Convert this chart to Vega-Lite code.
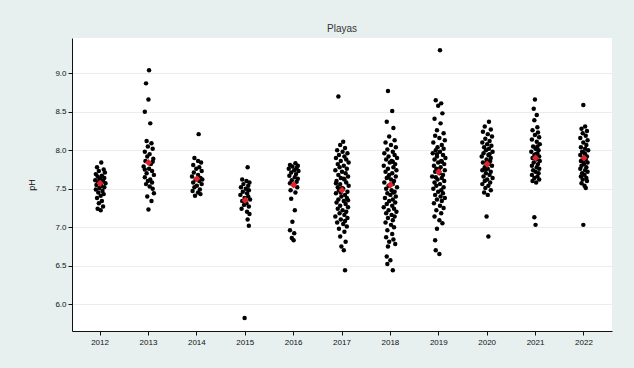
{
  "$schema": "https://vega.github.io/schema/vega-lite/v6.json",
  "autosize": "none",
  "width": 540,
  "height": 293,
  "padding": {"left": 72, "top": 38, "right": 22, "bottom": 37},
  "background": "#e7efef",
  "title": {"text": "Playas", "fontSize": 10, "font": "Liberation Sans", "fontWeight": "normal", "color": "#333333", "anchor": "middle", "offset": 4},
  "config": {
    "view": {"fill": "white", "stroke": null},
    "axis": {"labelFont": "Liberation Sans", "titleFont": "Liberation Sans", "labelFontSize": 8, "labelColor": "#111111", "domainColor": "#111111", "tickColor": "#111111", "titleColor": "#111111", "titleFontWeight": "normal"}
  },
  "datasets": {
    "obs": [
      {"year":2012,"ph":7.84,"j":0.2},{"year":2012,"ph":7.78,"j":-0.5},{"year":2012,"ph":7.75,"j":0.6},{"year":2012,"ph":7.73,"j":-0.2},{"year":2012,"ph":7.71,"j":0.8},{"year":2012,"ph":7.69,"j":-0.7},{"year":2012,"ph":7.67,"j":0.3},{"year":2012,"ph":7.66,"j":-0.4},{"year":2012,"ph":7.64,"j":0.7},{"year":2012,"ph":7.63,"j":0.0},{"year":2012,"ph":7.61,"j":-0.8},{"year":2012,"ph":7.60,"j":0.5},{"year":2012,"ph":7.58,"j":-0.3},{"year":2012,"ph":7.57,"j":0.9},{"year":2012,"ph":7.55,"j":-0.6},{"year":2012,"ph":7.54,"j":0.2},{"year":2012,"ph":7.52,"j":0.7},{"year":2012,"ph":7.51,"j":-0.1},{"year":2012,"ph":7.49,"j":-0.7},{"year":2012,"ph":7.47,"j":0.4},{"year":2012,"ph":7.45,"j":-0.3},{"year":2012,"ph":7.43,"j":0.6},{"year":2012,"ph":7.41,"j":0.1},{"year":2012,"ph":7.38,"j":-0.5},{"year":2012,"ph":7.34,"j":0.3},{"year":2012,"ph":7.31,"j":-0.2},{"year":2012,"ph":7.27,"j":0.5},{"year":2012,"ph":7.24,"j":-0.4},{"year":2012,"ph":7.22,"j":0.1},{"year":2012,"ph":7.62,"j":-0.1},
      {"year":2013,"ph":9.04,"j":0.1},{"year":2013,"ph":8.87,"j":-0.4},{"year":2013,"ph":8.66,"j":0.0},{"year":2013,"ph":8.50,"j":-0.6},{"year":2013,"ph":8.35,"j":0.3},{"year":2013,"ph":8.12,"j":-0.3},{"year":2013,"ph":8.09,"j":0.5},{"year":2013,"ph":8.05,"j":-0.1},{"year":2013,"ph":8.02,"j":0.7},{"year":2013,"ph":7.98,"j":-0.6},{"year":2013,"ph":7.95,"j":0.2},{"year":2013,"ph":7.92,"j":-0.2},{"year":2013,"ph":7.89,"j":0.8},{"year":2013,"ph":7.86,"j":-0.5},{"year":2013,"ph":7.82,"j":0.4},{"year":2013,"ph":7.79,"j":-0.8},{"year":2013,"ph":7.76,"j":0.1},{"year":2013,"ph":7.73,"j":0.6},{"year":2013,"ph":7.70,"j":-0.3},{"year":2013,"ph":7.68,"j":0.9},{"year":2013,"ph":7.65,"j":-0.6},{"year":2013,"ph":7.62,"j":0.3},{"year":2013,"ph":7.60,"j":-0.1},{"year":2013,"ph":7.58,"j":0.6},{"year":2013,"ph":7.56,"j":-0.4},{"year":2013,"ph":7.53,"j":0.2},{"year":2013,"ph":7.50,"j":0.7},{"year":2013,"ph":7.44,"j":0.9},{"year":2013,"ph":7.40,"j":-0.2},{"year":2013,"ph":7.34,"j":0.5},{"year":2013,"ph":7.23,"j":0.0},{"year":2013,"ph":7.75,"j":-0.6},{"year":2013,"ph":7.85,"j":0.7},
      {"year":2014,"ph":8.21,"j":0.3},{"year":2014,"ph":7.90,"j":-0.4},{"year":2014,"ph":7.86,"j":0.2},{"year":2014,"ph":7.84,"j":0.7},{"year":2014,"ph":7.81,"j":-0.6},{"year":2014,"ph":7.78,"j":0.4},{"year":2014,"ph":7.76,"j":-0.1},{"year":2014,"ph":7.73,"j":0.8},{"year":2014,"ph":7.71,"j":-0.5},{"year":2014,"ph":7.68,"j":0.2},{"year":2014,"ph":7.66,"j":-0.8},{"year":2014,"ph":7.64,"j":0.6},{"year":2014,"ph":7.62,"j":-0.2},{"year":2014,"ph":7.60,"j":0.4},{"year":2014,"ph":7.58,"j":-0.6},{"year":2014,"ph":7.56,"j":0.8},{"year":2014,"ph":7.54,"j":0.0},{"year":2014,"ph":7.52,"j":-0.4},{"year":2014,"ph":7.49,"j":0.5},{"year":2014,"ph":7.47,"j":-0.7},{"year":2014,"ph":7.45,"j":0.2},{"year":2014,"ph":7.43,"j":0.6},{"year":2014,"ph":7.41,"j":-0.3},{"year":2014,"ph":7.62,"j":0.9},
      {"year":2015,"ph":7.78,"j":0.4},{"year":2015,"ph":7.62,"j":-0.5},{"year":2015,"ph":7.60,"j":0.2},{"year":2015,"ph":7.58,"j":0.7},{"year":2015,"ph":7.56,"j":-0.3},{"year":2015,"ph":7.54,"j":0.5},{"year":2015,"ph":7.52,"j":-0.7},{"year":2015,"ph":7.50,"j":0.1},{"year":2015,"ph":7.48,"j":0.6},{"year":2015,"ph":7.46,"j":-0.4},{"year":2015,"ph":7.44,"j":0.3},{"year":2015,"ph":7.42,"j":-0.8},{"year":2015,"ph":7.40,"j":0.5},{"year":2015,"ph":7.38,"j":-0.1},{"year":2015,"ph":7.36,"j":0.8},{"year":2015,"ph":7.34,"j":-0.5},{"year":2015,"ph":7.31,"j":0.2},{"year":2015,"ph":7.29,"j":-0.2},{"year":2015,"ph":7.27,"j":0.6},{"year":2015,"ph":7.24,"j":-0.6},{"year":2015,"ph":7.20,"j":0.3},{"year":2015,"ph":7.17,"j":0.7},{"year":2015,"ph":7.10,"j":0.4},{"year":2015,"ph":7.02,"j":0.6},{"year":2015,"ph":5.82,"j":-0.1},
      {"year":2016,"ph":7.83,"j":0.3},{"year":2016,"ph":7.81,"j":-0.6},{"year":2016,"ph":7.80,"j":0.7},{"year":2016,"ph":7.79,"j":-0.2},{"year":2016,"ph":7.77,"j":0.5},{"year":2016,"ph":7.76,"j":-0.8},{"year":2016,"ph":7.74,"j":0.1},{"year":2016,"ph":7.73,"j":0.8},{"year":2016,"ph":7.71,"j":-0.4},{"year":2016,"ph":7.69,"j":0.4},{"year":2016,"ph":7.67,"j":-0.7},{"year":2016,"ph":7.65,"j":0.2},{"year":2016,"ph":7.63,"j":0.7},{"year":2016,"ph":7.61,"j":-0.3},{"year":2016,"ph":7.59,"j":0.5},{"year":2016,"ph":7.57,"j":-0.6},{"year":2016,"ph":7.55,"j":0.0},{"year":2016,"ph":7.52,"j":0.6},{"year":2016,"ph":7.48,"j":-0.5},{"year":2016,"ph":7.45,"j":0.3},{"year":2016,"ph":7.37,"j":-0.4},{"year":2016,"ph":7.22,"j":0.2},{"year":2016,"ph":7.07,"j":-0.2},{"year":2016,"ph":6.96,"j":-0.6},{"year":2016,"ph":6.92,"j":0.1},{"year":2016,"ph":6.86,"j":-0.3},{"year":2016,"ph":6.83,"j":0.0},
      {"year":2017,"ph":8.70,"j":-0.6},{"year":2017,"ph":8.11,"j":0.2},{"year":2017,"ph":8.07,"j":-0.3},{"year":2017,"ph":8.03,"j":0.5},{"year":2017,"ph":8.00,"j":-0.8},{"year":2017,"ph":7.98,"j":0.1},{"year":2017,"ph":7.96,"j":0.9},{"year":2017,"ph":7.94,"j":-0.5},{"year":2017,"ph":7.92,"j":0.4},{"year":2017,"ph":7.90,"j":-1.0},{"year":2017,"ph":7.88,"j":0.7},{"year":2017,"ph":7.86,"j":-0.2},{"year":2017,"ph":7.84,"j":1.1},{"year":2017,"ph":7.82,"j":-0.7},{"year":2017,"ph":7.80,"j":0.3},{"year":2017,"ph":7.78,"j":-0.4},{"year":2017,"ph":7.76,"j":0.8},{"year":2017,"ph":7.74,"j":-1.1},{"year":2017,"ph":7.72,"j":0.0},{"year":2017,"ph":7.70,"j":0.6},{"year":2017,"ph":7.68,"j":-0.6},{"year":2017,"ph":7.66,"j":1.0},{"year":2017,"ph":7.64,"j":-0.2},{"year":2017,"ph":7.62,"j":0.4},{"year":2017,"ph":7.60,"j":-0.9},{"year":2017,"ph":7.58,"j":0.7},{"year":2017,"ph":7.56,"j":-0.3},{"year":2017,"ph":7.54,"j":1.1},{"year":2017,"ph":7.52,"j":-0.7},{"year":2017,"ph":7.50,"j":0.2},{"year":2017,"ph":7.48,"j":-0.5},{"year":2017,"ph":7.46,"j":0.9},{"year":2017,"ph":7.44,"j":-1.0},{"year":2017,"ph":7.42,"j":0.5},{"year":2017,"ph":7.40,"j":-0.1},{"year":2017,"ph":7.38,"j":0.8},{"year":2017,"ph":7.36,"j":-0.6},{"year":2017,"ph":7.34,"j":0.3},{"year":2017,"ph":7.32,"j":-0.9},{"year":2017,"ph":7.30,"j":0.6},{"year":2017,"ph":7.28,"j":-0.3},{"year":2017,"ph":7.26,"j":1.0},{"year":2017,"ph":7.24,"j":-0.7},{"year":2017,"ph":7.22,"j":0.1},{"year":2017,"ph":7.20,"j":0.7},{"year":2017,"ph":7.18,"j":-0.4},{"year":2017,"ph":7.16,"j":0.4},{"year":2017,"ph":7.14,"j":-1.1},{"year":2017,"ph":7.12,"j":0.9},{"year":2017,"ph":7.10,"j":-0.2},{"year":2017,"ph":7.08,"j":0.5},{"year":2017,"ph":7.06,"j":-0.8},{"year":2017,"ph":7.04,"j":0.2},{"year":2017,"ph":7.01,"j":0.8},{"year":2017,"ph":6.98,"j":-0.5},{"year":2017,"ph":6.94,"j":0.4},{"year":2017,"ph":6.88,"j":-0.3},{"year":2017,"ph":6.81,"j":0.6},{"year":2017,"ph":6.75,"j":-0.1},{"year":2017,"ph":6.70,"j":0.3},{"year":2017,"ph":6.44,"j":0.5},{"year":2017,"ph":7.51,"j":0.0},{"year":2017,"ph":7.45,"j":-0.2},{"year":2017,"ph":7.63,"j":0.3},{"year":2017,"ph":7.35,"j":1.0},{"year":2017,"ph":7.57,"j":-1.0},
      {"year":2018,"ph":8.77,"j":-0.4},{"year":2018,"ph":8.51,"j":0.3},{"year":2018,"ph":8.37,"j":-0.6},{"year":2018,"ph":8.29,"j":0.5},{"year":2018,"ph":8.18,"j":-0.2},{"year":2018,"ph":8.13,"j":0.7},{"year":2018,"ph":8.10,"j":-0.8},{"year":2018,"ph":8.07,"j":0.1},{"year":2018,"ph":8.04,"j":0.9},{"year":2018,"ph":8.01,"j":-0.5},{"year":2018,"ph":7.98,"j":0.4},{"year":2018,"ph":7.96,"j":-1.0},{"year":2018,"ph":7.94,"j":0.7},{"year":2018,"ph":7.92,"j":-0.3},{"year":2018,"ph":7.90,"j":1.1},{"year":2018,"ph":7.88,"j":-0.7},{"year":2018,"ph":7.86,"j":0.2},{"year":2018,"ph":7.84,"j":-0.1},{"year":2018,"ph":7.82,"j":0.8},{"year":2018,"ph":7.80,"j":-1.1},{"year":2018,"ph":7.78,"j":0.5},{"year":2018,"ph":7.76,"j":-0.4},{"year":2018,"ph":7.74,"j":1.0},{"year":2018,"ph":7.72,"j":-0.8},{"year":2018,"ph":7.70,"j":0.3},{"year":2018,"ph":7.68,"j":-0.2},{"year":2018,"ph":7.66,"j":0.9},{"year":2018,"ph":7.64,"j":-0.6},{"year":2018,"ph":7.62,"j":0.1},{"year":2018,"ph":7.60,"j":0.6},{"year":2018,"ph":7.58,"j":-1.0},{"year":2018,"ph":7.56,"j":0.4},{"year":2018,"ph":7.54,"j":-0.3},{"year":2018,"ph":7.52,"j":1.1},{"year":2018,"ph":7.50,"j":-0.7},{"year":2018,"ph":7.48,"j":0.2},{"year":2018,"ph":7.46,"j":0.7},{"year":2018,"ph":7.44,"j":-0.5},{"year":2018,"ph":7.42,"j":0.0},{"year":2018,"ph":7.40,"j":0.9},{"year":2018,"ph":7.38,"j":-0.9},{"year":2018,"ph":7.36,"j":0.4},{"year":2018,"ph":7.34,"j":-0.2},{"year":2018,"ph":7.32,"j":0.8},{"year":2018,"ph":7.30,"j":-0.6},{"year":2018,"ph":7.28,"j":0.3},{"year":2018,"ph":7.26,"j":-1.1},{"year":2018,"ph":7.24,"j":0.6},{"year":2018,"ph":7.22,"j":-0.3},{"year":2018,"ph":7.20,"j":1.0},{"year":2018,"ph":7.18,"j":-0.7},{"year":2018,"ph":7.16,"j":0.2},{"year":2018,"ph":7.14,"j":0.7},{"year":2018,"ph":7.12,"j":-0.4},{"year":2018,"ph":7.09,"j":0.4},{"year":2018,"ph":7.06,"j":-0.8},{"year":2018,"ph":7.03,"j":0.1},{"year":2018,"ph":7.00,"j":0.6},{"year":2018,"ph":6.96,"j":-0.5},{"year":2018,"ph":6.91,"j":0.3},{"year":2018,"ph":6.87,"j":-0.7},{"year":2018,"ph":6.84,"j":0.5},{"year":2018,"ph":6.81,"j":-0.2},{"year":2018,"ph":6.78,"j":0.8},{"year":2018,"ph":6.75,"j":-0.4},{"year":2018,"ph":6.62,"j":-0.6},{"year":2018,"ph":6.57,"j":0.0},{"year":2018,"ph":6.52,"j":-0.5},{"year":2018,"ph":6.44,"j":0.4},{"year":2018,"ph":7.55,"j":0.0},{"year":2018,"ph":7.65,"j":-0.4},{"year":2018,"ph":7.45,"j":0.5},{"year":2018,"ph":7.85,"j":0.4},
      {"year":2019,"ph":9.30,"j":0.2},{"year":2019,"ph":8.65,"j":-0.5},{"year":2019,"ph":8.61,"j":0.4},{"year":2019,"ph":8.58,"j":-0.1},{"year":2019,"ph":8.48,"j":0.6},{"year":2019,"ph":8.41,"j":-0.7},{"year":2019,"ph":8.35,"j":0.3},{"year":2019,"ph":8.26,"j":-0.3},{"year":2019,"ph":8.22,"j":0.8},{"year":2019,"ph":8.19,"j":-0.6},{"year":2019,"ph":8.16,"j":0.1},{"year":2019,"ph":8.13,"j":1.0},{"year":2019,"ph":8.10,"j":-0.9},{"year":2019,"ph":8.07,"j":0.5},{"year":2019,"ph":8.04,"j":-0.2},{"year":2019,"ph":8.02,"j":0.8},{"year":2019,"ph":8.00,"j":-0.5},{"year":2019,"ph":7.98,"j":0.2},{"year":2019,"ph":7.96,"j":-1.0},{"year":2019,"ph":7.94,"j":0.7},{"year":2019,"ph":7.92,"j":-0.3},{"year":2019,"ph":7.90,"j":1.1},{"year":2019,"ph":7.88,"j":-0.7},{"year":2019,"ph":7.86,"j":0.4},{"year":2019,"ph":7.84,"j":-0.1},{"year":2019,"ph":7.82,"j":0.9},{"year":2019,"ph":7.80,"j":-0.8},{"year":2019,"ph":7.78,"j":0.3},{"year":2019,"ph":7.76,"j":-0.4},{"year":2019,"ph":7.74,"j":1.0},{"year":2019,"ph":7.72,"j":-0.6},{"year":2019,"ph":7.70,"j":0.1},{"year":2019,"ph":7.68,"j":0.7},{"year":2019,"ph":7.66,"j":-1.1},{"year":2019,"ph":7.64,"j":0.5},{"year":2019,"ph":7.62,"j":-0.2},{"year":2019,"ph":7.60,"j":0.9},{"year":2019,"ph":7.58,"j":-0.7},{"year":2019,"ph":7.56,"j":0.2},{"year":2019,"ph":7.54,"j":-0.4},{"year":2019,"ph":7.52,"j":0.8},{"year":2019,"ph":7.50,"j":-0.9},{"year":2019,"ph":7.48,"j":0.4},{"year":2019,"ph":7.46,"j":-0.1},{"year":2019,"ph":7.44,"j":0.7},{"year":2019,"ph":7.42,"j":-0.6},{"year":2019,"ph":7.40,"j":0.3},{"year":2019,"ph":7.38,"j":1.0},{"year":2019,"ph":7.36,"j":-0.3},{"year":2019,"ph":7.34,"j":0.5},{"year":2019,"ph":7.31,"j":-0.8},{"year":2019,"ph":7.28,"j":0.2},{"year":2019,"ph":7.25,"j":0.8},{"year":2019,"ph":7.22,"j":-0.4},{"year":2019,"ph":7.18,"j":0.4},{"year":2019,"ph":7.14,"j":-0.7},{"year":2019,"ph":7.09,"j":0.1},{"year":2019,"ph":7.05,"j":0.6},{"year":2019,"ph":6.98,"j":-0.3},{"year":2019,"ph":6.83,"j":-0.6},{"year":2019,"ph":6.70,"j":-0.5},{"year":2019,"ph":6.65,"j":0.1},{"year":2019,"ph":7.75,"j":0.0},{"year":2019,"ph":7.85,"j":0.5},{"year":2019,"ph":7.65,"j":-0.5},{"year":2019,"ph":7.95,"j":-0.3},
      {"year":2020,"ph":8.37,"j":0.3},{"year":2020,"ph":8.31,"j":-0.4},{"year":2020,"ph":8.27,"j":0.6},{"year":2020,"ph":8.24,"j":-0.7},{"year":2020,"ph":8.21,"j":0.1},{"year":2020,"ph":8.18,"j":0.8},{"year":2020,"ph":8.15,"j":-0.3},{"year":2020,"ph":8.12,"j":0.4},{"year":2020,"ph":8.10,"j":-0.8},{"year":2020,"ph":8.08,"j":0.0},{"year":2020,"ph":8.06,"j":0.7},{"year":2020,"ph":8.04,"j":-0.5},{"year":2020,"ph":8.02,"j":0.3},{"year":2020,"ph":8.00,"j":-0.2},{"year":2020,"ph":7.98,"j":0.9},{"year":2020,"ph":7.96,"j":-0.6},{"year":2020,"ph":7.94,"j":0.2},{"year":2020,"ph":7.92,"j":-0.9},{"year":2020,"ph":7.90,"j":0.6},{"year":2020,"ph":7.88,"j":-0.1},{"year":2020,"ph":7.86,"j":0.5},{"year":2020,"ph":7.84,"j":-0.7},{"year":2020,"ph":7.82,"j":0.3},{"year":2020,"ph":7.80,"j":0.8},{"year":2020,"ph":7.78,"j":-0.4},{"year":2020,"ph":7.76,"j":0.1},{"year":2020,"ph":7.74,"j":-0.8},{"year":2020,"ph":7.72,"j":0.6},{"year":2020,"ph":7.70,"j":-0.2},{"year":2020,"ph":7.68,"j":0.4},{"year":2020,"ph":7.66,"j":-0.6},{"year":2020,"ph":7.64,"j":0.9},{"year":2020,"ph":7.62,"j":0.0},{"year":2020,"ph":7.60,"j":-0.4},{"year":2020,"ph":7.58,"j":0.5},{"year":2020,"ph":7.56,"j":-0.8},{"year":2020,"ph":7.54,"j":0.2},{"year":2020,"ph":7.51,"j":-0.3},{"year":2020,"ph":7.48,"j":0.6},{"year":2020,"ph":7.45,"j":-0.5},{"year":2020,"ph":7.42,"j":0.1},{"year":2020,"ph":7.14,"j":-0.1},{"year":2020,"ph":6.88,"j":0.2},{"year":2020,"ph":7.85,"j":0.0},{"year":2020,"ph":7.95,"j":0.4},{"year":2020,"ph":7.75,"j":-0.3},
      {"year":2021,"ph":8.66,"j":-0.1},{"year":2021,"ph":8.54,"j":-0.3},{"year":2021,"ph":8.46,"j":0.2},{"year":2021,"ph":8.39,"j":-0.2},{"year":2021,"ph":8.30,"j":0.3},{"year":2021,"ph":8.26,"j":-0.5},{"year":2021,"ph":8.23,"j":0.4},{"year":2021,"ph":8.20,"j":-0.1},{"year":2021,"ph":8.17,"j":0.6},{"year":2021,"ph":8.14,"j":-0.6},{"year":2021,"ph":8.11,"j":0.2},{"year":2021,"ph":8.08,"j":0.7},{"year":2021,"ph":8.05,"j":-0.4},{"year":2021,"ph":8.02,"j":0.0},{"year":2021,"ph":8.00,"j":0.5},{"year":2021,"ph":7.98,"j":-0.7},{"year":2021,"ph":7.96,"j":0.3},{"year":2021,"ph":7.94,"j":-0.2},{"year":2021,"ph":7.92,"j":0.6},{"year":2021,"ph":7.90,"j":-0.5},{"year":2021,"ph":7.88,"j":0.1},{"year":2021,"ph":7.86,"j":0.7},{"year":2021,"ph":7.84,"j":-0.3},{"year":2021,"ph":7.82,"j":0.4},{"year":2021,"ph":7.80,"j":-0.6},{"year":2021,"ph":7.78,"j":0.2},{"year":2021,"ph":7.76,"j":0.6},{"year":2021,"ph":7.74,"j":-0.4},{"year":2021,"ph":7.72,"j":0.0},{"year":2021,"ph":7.70,"j":0.5},{"year":2021,"ph":7.68,"j":-0.6},{"year":2021,"ph":7.66,"j":0.3},{"year":2021,"ph":7.64,"j":-0.2},{"year":2021,"ph":7.62,"j":0.6},{"year":2021,"ph":7.60,"j":-0.5},{"year":2021,"ph":7.58,"j":0.1},{"year":2021,"ph":7.13,"j":-0.2},{"year":2021,"ph":7.03,"j":0.0},{"year":2021,"ph":7.95,"j":0.0},{"year":2021,"ph":8.05,"j":0.3},
      {"year":2022,"ph":8.59,"j":-0.1},{"year":2022,"ph":8.31,"j":0.2},{"year":2022,"ph":8.28,"j":-0.4},{"year":2022,"ph":8.25,"j":0.5},{"year":2022,"ph":8.22,"j":-0.2},{"year":2022,"ph":8.19,"j":0.3},{"year":2022,"ph":8.16,"j":-0.6},{"year":2022,"ph":8.13,"j":0.6},{"year":2022,"ph":8.10,"j":-0.1},{"year":2022,"ph":8.07,"j":0.4},{"year":2022,"ph":8.04,"j":-0.5},{"year":2022,"ph":8.02,"j":0.2},{"year":2022,"ph":8.00,"j":0.7},{"year":2022,"ph":7.98,"j":-0.3},{"year":2022,"ph":7.96,"j":0.1},{"year":2022,"ph":7.94,"j":-0.6},{"year":2022,"ph":7.92,"j":0.5},{"year":2022,"ph":7.90,"j":-0.2},{"year":2022,"ph":7.88,"j":0.3},{"year":2022,"ph":7.86,"j":-0.5},{"year":2022,"ph":7.84,"j":0.6},{"year":2022,"ph":7.82,"j":0.0},{"year":2022,"ph":7.80,"j":-0.4},{"year":2022,"ph":7.78,"j":0.4},{"year":2022,"ph":7.76,"j":-0.6},{"year":2022,"ph":7.74,"j":0.2},{"year":2022,"ph":7.72,"j":0.6},{"year":2022,"ph":7.70,"j":-0.3},{"year":2022,"ph":7.68,"j":0.1},{"year":2022,"ph":7.66,"j":-0.5},{"year":2022,"ph":7.64,"j":0.4},{"year":2022,"ph":7.62,"j":-0.2},{"year":2022,"ph":7.60,"j":0.5},{"year":2022,"ph":7.57,"j":-0.4},{"year":2022,"ph":7.54,"j":0.1},{"year":2022,"ph":7.51,"j":0.3},{"year":2022,"ph":7.03,"j":-0.1},{"year":2022,"ph":7.95,"j":0.2},{"year":2022,"ph":7.85,"j":-0.1}
    ],
    "means": [
      {"year":2012,"ph":7.57},{"year":2013,"ph":7.84},{"year":2014,"ph":7.63},{"year":2015,"ph":7.35},{"year":2016,"ph":7.55},{"year":2017,"ph":7.48},{"year":2018,"ph":7.55},{"year":2019,"ph":7.72},{"year":2020,"ph":7.82},{"year":2021,"ph":7.90},{"year":2022,"ph":7.90}
    ]
  },
  "encoding": {
    "x": {"field": "year", "type": "ordinal", "scale": {"type": "band", "paddingInner": 0, "paddingOuter": 0.08},
          "axis": {"title": null, "labelAngle": 0, "tickSize": 4, "labelPadding": 3, "grid": false}},
    "y": {"field": "ph", "type": "quantitative", "scale": {"domain": [5.65, 9.46], "nice": false, "zero": false},
          "axis": {"title": "pH", "titleFontSize": 9, "values": [6, 6.5, 7, 7.5, 8, 8.5, 9], "format": ".1f", "tickSize": 4, "labelPadding": 2, "titlePadding": 18, "grid": true, "gridColor": "#ececec"}}
  },
  "layer": [
    {"data": {"name": "obs"}, "mark": {"type": "point", "filled": true, "shape": "circle", "size": 20, "color": "#000000", "opacity": 1},
     "encoding": {"xOffset": {"field": "j", "type": "quantitative", "scale": {"domain": [-4, 4]}}}},
    {"data": {"name": "means"}, "mark": {"type": "point", "filled": true, "shape": "diamond", "size": 50, "color": "#e3232c", "opacity": 1}}
  ]
}
